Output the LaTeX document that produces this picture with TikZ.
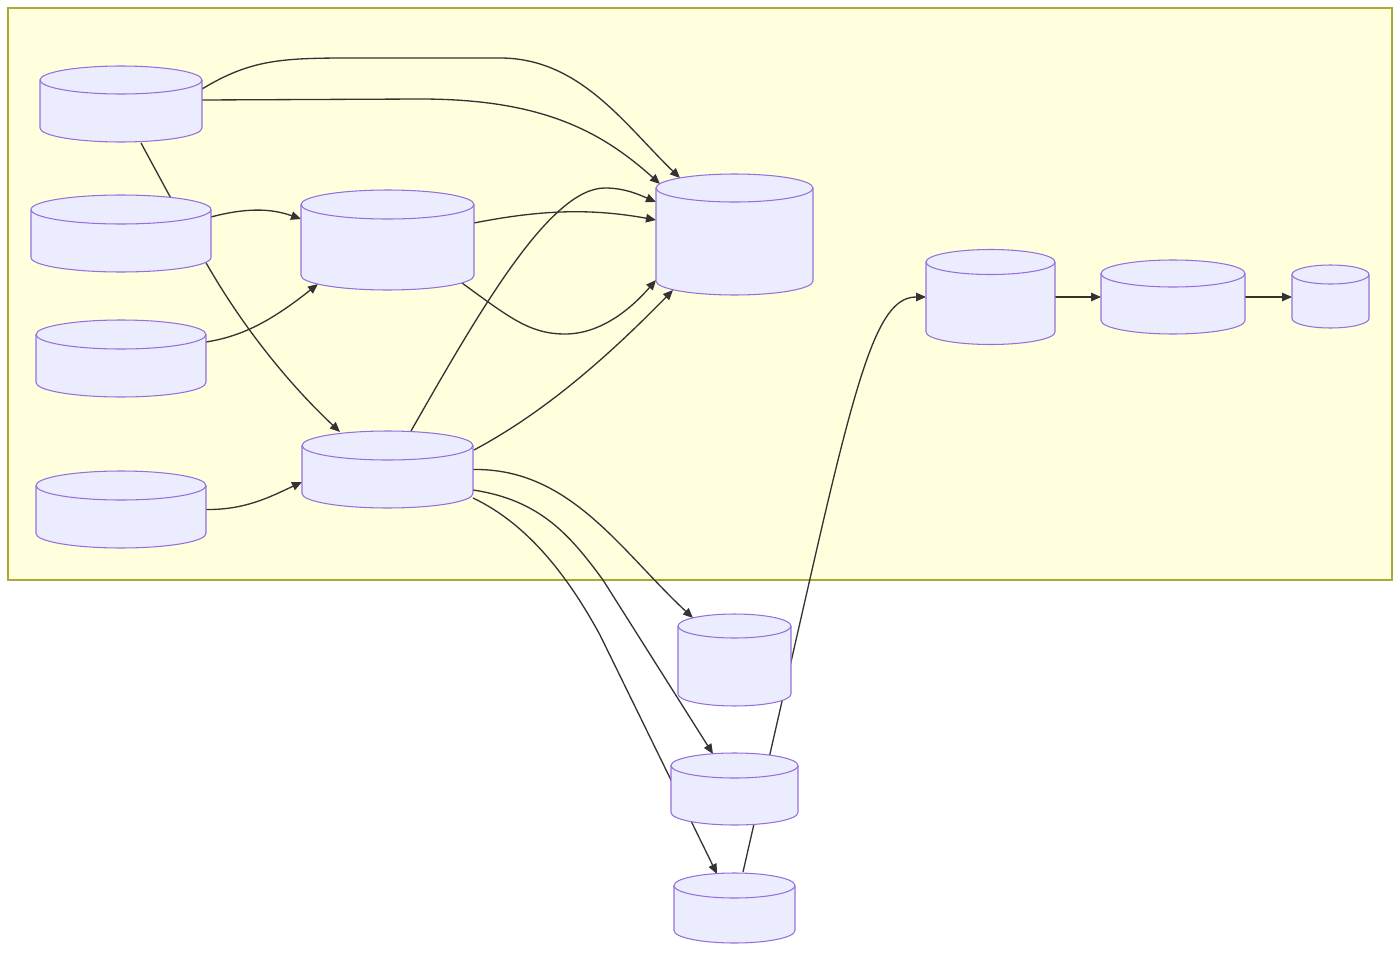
\documentclass[tikz,border=0pt]{standalone}
\usepackage{tikz}
\usetikzlibrary{calc,arrows.meta}
\definecolor{groupfill}{HTML}{FFFFDE}
\definecolor{groupline}{HTML}{AAAA33}
\definecolor{tankfill}{HTML}{ECECFF}
\definecolor{tankedge}{HTML}{9370DB}
\definecolor{wire}{HTML}{333333}
\tikzset{
  store/.style={inner sep=0pt, outer sep=0pt},
  tankline/.style={draw=tankedge, fill=tankfill, line width=0.6pt},
  flow/.style={draw=wire, line width=0.75pt, -{Triangle[length=0.2cm,width=0.17cm]}}
}
% cylinder round a named node: name, x radius, y radius
\newcommand{\tank}[3]{%
  \draw[tankline] ($(#1.north west)-(0pt,#3)$) -- ($(#1.south west)+(0pt,#3)$)
    arc[start angle=180,end angle=360,x radius=#2,y radius=#3]
    -- ($(#1.north east)-(0pt,#3)$)
    arc[start angle=0,end angle=180,x radius=#2,y radius=#3] -- cycle;
  \draw[tankline, fill=none] ($(#1.north west)-(0pt,#3)$)
    arc[start angle=180,end angle=360,x radius=#2,y radius=#3];
}

\begin{document}
\begin{tikzpicture}[x=0.02cm, y=0.02cm]
  %%%%% START %%%%%
  \useasboundingbox (0,0) rectangle (1400,-953);

  \draw[fill=groupfill, draw=groupline, line width=0.6pt] (8,-8) rectangle (1392,-580);

  % places of the stores
  \node[store, minimum width=3.24cm, minimum height=1.52cm] (a) at (121,-104) {};
  \node[store, minimum width=3.60cm, minimum height=1.54cm] (b) at (121,-233.5) {};
  \node[store, minimum width=3.40cm, minimum height=1.54cm] (e) at (121,-358.5) {};
  \node[store, minimum width=3.40cm, minimum height=1.54cm] (f) at (121,-509.5) {};
  \node[store, minimum width=3.46cm, minimum height=2.00cm] (c) at (387.5,-240) {};
  \node[store, minimum width=3.42cm, minimum height=1.54cm] (g) at (387.5,-469.5) {};
  \node[store, minimum width=3.14cm, minimum height=2.42cm] (d) at (734.5,-234.5) {};
  \node[store, minimum width=2.58cm, minimum height=1.90cm] (h) at (990.5,-297) {};
  \node[store, minimum width=2.88cm, minimum height=1.48cm] (i) at (1173,-297) {};
  \node[store, minimum width=1.54cm, minimum height=1.26cm] (j) at (1330.5,-296.5) {};
  \node[store, minimum width=2.26cm, minimum height=1.84cm] (k) at (734.5,-660) {};
  \node[store, minimum width=2.54cm, minimum height=1.44cm] (l) at (734.5,-789) {};
  \node[store, minimum width=2.42cm, minimum height=1.40cm] (m) at (734.5,-908) {};

  % connectors
  \draw[flow] ($(a.east)+(0,15)$) .. controls (250,-60) and (280,-58) .. (350,-58) -- (500,-58)
    .. controls (580,-58) and (625,-125) .. ($(d.north)+(-54.5,-4)$);
  \draw[flow] ($(a.east)+(0,4)$) -- (420,-99) .. controls (540,-99) and (600,-130) .. ($(d.north west)+(4,-10)$);
  \draw[flow] ($(a.south)+(20,-1)$) -- (200,-252) .. controls (240,-325) and (290,-385) .. ($(g.north)+(-47.5,-1)$);
  \draw[flow] ($(b.east)+(0,16.5)$) .. controls (245,-208) and (270,-208) .. ($(c.west)+(0,21)$);
  \draw[flow] ($(c.east)+(0,17)$) .. controls (540,-210) and (590,-208) .. ($(d.west)+(0,14.5)$);
  \draw[flow] ($(c.south)+(74.5,7)$) .. controls (510,-318) and (530,-334) .. (565,-334)
    .. controls (600,-334) and (630,-310) .. ($(d.west)+(0,-45.5)$);
  \draw[flow] ($(e.east)+(0,16.5)$) .. controls (245,-336) and (275,-318) .. ($(c.south)+(-69.5,6)$);
  \draw[flow] (f.east) .. controls (245,-510) and (270,-497) .. ($(g.west)+(0,-12.5)$);
  \draw[flow] ($(g.north)+(23.5,0)$) .. controls (480,-310) and (550,-188) .. (605,-188)
    .. controls (625,-188) and (640,-195) .. ($(d.west)+(0,32.5)$);
  \draw[flow] ($(g.east)+(1,19.5)$) .. controls (530,-420) and (590,-375) .. ($(d.south)+(-61.5,5)$);
  \draw[flow] (g.east) .. controls (570,-468) and (620,-550) .. ($(k.north)+(-41.5,-4)$);
  \draw[flow] ($(g.east)+(0,-20.5)$) .. controls (540,-500) and (570,-535) .. (603,-580) -- ($(l.north)+(-21.5,-1)$);
  \draw[flow] ($(g.east)+(0,-28.5)$) .. controls (530,-525) and (570,-580) .. (600,-635) -- ($(m.north)+(-17.5,-1)$);
  \draw[flow] ($(m.north)+(8.5,1)$) -- (812,-570) .. controls (860,-360) and (880,-297) .. (h.west);
  \draw[flow] (h.east) -- (h.east -| i.west);
  \draw[flow] (i.east) -- (i.east -| j.west);

  % stores drawn over the connectors
  \tank{a}{1.62cm}{0.28cm}
  \tank{b}{1.80cm}{0.29cm}
  \tank{e}{1.70cm}{0.29cm}
  \tank{f}{1.70cm}{0.29cm}
  \tank{c}{1.73cm}{0.29cm}
  \tank{g}{1.71cm}{0.29cm}
  \tank{d}{1.57cm}{0.28cm}
  \tank{h}{1.29cm}{0.25cm}
  \tank{i}{1.44cm}{0.27cm}
  \tank{j}{0.77cm}{0.19cm}
  \tank{k}{1.13cm}{0.24cm}
  \tank{l}{1.27cm}{0.25cm}
  \tank{m}{1.21cm}{0.25cm}
  %%%%% END %%%%%
\end{tikzpicture}
\end{document}
